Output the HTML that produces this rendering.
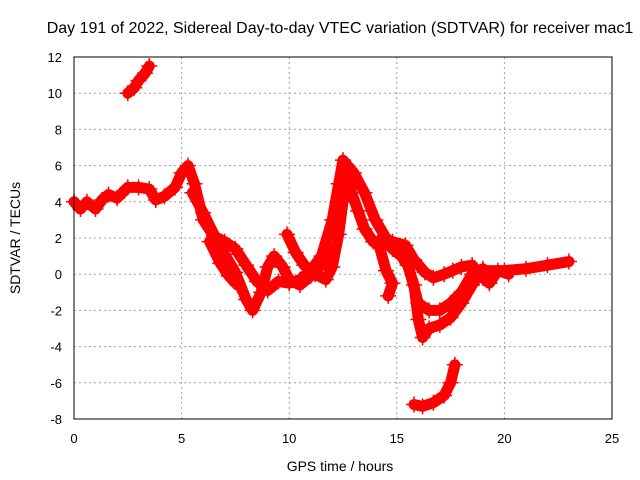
<!DOCTYPE html>
<html><head><meta charset="utf-8"><style>
body{margin:0;background:#fff;}
svg{display:block;font-family:"Liberation Sans",sans-serif;}
</style></head><body>
<svg id="chart" width="640" height="480">
<text x="340" y="33" font-size="16" text-anchor="middle" fill="#000">Day 191 of 2022, Sidereal Day-to-day VTEC variation (SDTVAR) for receiver mac1</text>
<g id="grid"></g>
<g id="marks"></g>
<rect x="74" y="57" width="538" height="362" fill="none" stroke="#000" stroke-width="1"/>
<g id="ticks"></g>
<text x="340" y="471" font-size="14" text-anchor="middle">GPS time / hours</text>
<text x="20" y="238" font-size="14" text-anchor="middle" transform="rotate(-90 20 238)">SDTVAR / TECUs</text>
</svg>
<script>
const xTicks=[0,5,10,15,20,25];
const yTicks=[-8,-6,-4,-2,0,2,4,6,8,10,12];
const track1=[[0,4],[0.3,3.6],[0.6,4],[1,3.6],[1.3,4.1],[1.6,4.4],[2,4.2],[2.5,4.8],[3,4.8],[3.5,4.7],[3.8,4.1],[4.2,4.3],[4.7,4.8],[5,5.6],[5.3,6],[5.6,5],[6,3],[6.5,2.1],[7,1.8],[7.5,1.4],[8,0.5],[8.5,-0.4],[9,-0.9],[9.5,-0.4],[10,-0.5],[10.5,-0.3],[11,0.2],[11.5,1],[12,3],[12.3,5],[12.5,6.3],[13,5.6],[13.5,4.5],[14,3],[14.5,2],[15,1.5],[15.5,0.6],[16,-1.6],[16.5,-2],[17,-2],[17.5,-1.6],[18,-1],[18.5,0],[19,0.2],[20,0.2],[21,0.3],[22,0.5],[23,0.7]];
const track2=[[5.5,4.5],[6,3.4],[6.5,2.2],[7,1.1],[7.5,0.1],[8,-1.4],[8.3,-2],[8.7,-1],[9,0.4],[9.3,1],[9.7,0.4],[10,-0.3],[10.5,-0.6],[11,-0.1],[11.5,0.5],[11.8,1.5]];
const track3=[[6.3,1.8],[6.8,0.6],[7.2,-0.1],[7.6,-0.6]];
const track4=[[9.9,2.2],[10.3,1.2],[10.7,0.5],[11.2,0],[11.7,-0.3],[12,0.4],[12.3,2.2],[12.5,4],[12.7,5.5]];
const track5=[[12.6,6],[12.9,4.5],[13.2,3.5],[13.5,2.5],[13.9,1.8],[14.2,1.6]];
const track6=[[14.3,2],[14.8,1.4],[15.2,1],[15.5,0.5],[15.8,-0.6],[16,-2.5],[16.2,-3.5],[16.5,-3],[17,-2.8],[17.5,-2.4],[18,-1.6],[18.5,-0.6],[19,0.3]];
const track7=[[14.8,1.8],[15.4,1.6],[15.8,0.8],[16.3,0.1],[16.7,-0.2],[17.2,0],[17.6,0.2],[18,0.4],[18.5,0.5],[19,-0.2],[19.3,-0.5],[19.7,0.2],[20.2,0]];
const track8=[[14.2,1.5],[14.5,0.2],[14.8,-0.5],[14.6,-1.2]];
const track9=[[2.5,10],[2.8,10.3],[3,10.7],[3.3,11.1],[3.5,11.5]];
const track10=[[15.8,-7.2],[16.2,-7.3],[16.7,-7.1],[17.2,-6.7],[17.5,-6],[17.7,-5]];
const tracks=[track1,track2,track3,track4,track5,track6,track7,track8,track9,track10];
const NS='http://www.w3.org/2000/svg';
const X=h=>74+h*538/25, Y=v=>57+(12-v)*362/20;
const grid=document.getElementById('grid'),ticks=document.getElementById('ticks'),marks=document.getElementById('marks');
function mk(t,a,p){const e=document.createElementNS(NS,t);for(const k in a)e.setAttribute(k,a[k]);p.appendChild(e);return e;}
xTicks.forEach(t=>{const x=X(t);
 if(t>0&&t<25){const l=mk('line',{x1:x,x2:x,y1:57,y2:419,stroke:'#a0a0a0','stroke-dasharray':'2,3'},grid);
 
 }
 const tx=mk('text',{x:x,y:443,'font-size':13,'text-anchor':'middle'},ticks);tx.textContent=t;
 
 });
yTicks.forEach(t=>{const y=Y(t);
 if(t>-8&&t<12){const l=mk('line',{x1:74,x2:612,y1:y,y2:y,stroke:'#a0a0a0','stroke-dasharray':'2,3'},grid);
 
 }
 const tx=mk('text',{x:62,y:y+5,'font-size':13,'text-anchor':'end'},ticks);tx.textContent=t;
 
 });
tracks.forEach(tr=>{
 const pl=mk('polyline',{points:tr.map(p=>X(p[0])+','+Y(p[1])).join(' '),fill:'none',stroke:'#ff0000','stroke-width':11,'stroke-linejoin':'round','stroke-linecap':'round'},marks);
 
 
 tr.forEach(p=>{const x=X(p[0]),y=Y(p[1]);
  const m=mk('path',{d:`M${x-8},${y}h16M${x},${y-8}v16`,stroke:'#ff0000','stroke-width':1.5},marks);
  
  });
});
</script>
</body></html>
